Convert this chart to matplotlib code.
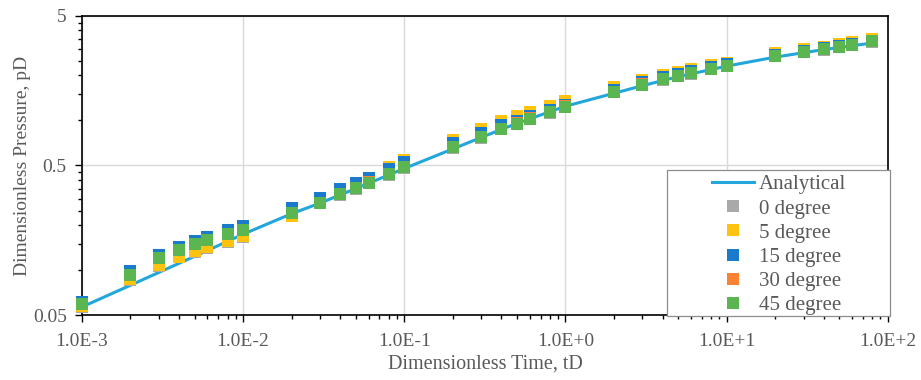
import numpy as np
import matplotlib
matplotlib.use('Agg')
import matplotlib.pyplot as plt
from matplotlib.patches import Rectangle
from matplotlib.ticker import FixedLocator, FuncFormatter, LogLocator, NullFormatter

# Dimensionless time steps of the simulations
t_d = [1e-3, 2e-3, 3e-3, 4e-3, 5e-3, 6e-3, 8e-3,
       1e-2, 2e-2, 3e-2, 4e-2, 5e-2, 6e-2, 8e-2,
       1e-1, 2e-1, 3e-1, 4e-1, 5e-1, 6e-1, 8e-1,
       1.0, 2.0, 3.0, 4.0, 5.0, 6.0, 8.0,
       10.0, 20.0, 30.0, 40.0, 50.0, 60.0, 80.0]

# Dimensionless pressure for each inclination angle
p_0deg = [0.0566, 0.0859, 0.1071, 0.1213, 0.1323, 0.1393, 0.1537,
          0.1661, 0.2284, 0.279, 0.318, 0.349, 0.381, 0.433,
          0.482, 0.655, 0.768, 0.875, 0.947, 1.02, 1.13,
          1.23, 1.54, 1.73, 1.87, 1.98, 2.06, 2.20,
          2.30, 2.68, 2.87, 2.98, 3.10, 3.20, 3.37]
p_5deg = [0.0577, 0.0868, 0.1083, 0.1231, 0.1344, 0.1415, 0.1552,
          0.1677, 0.2309, 0.282, 0.323, 0.358, 0.398, 0.4849,
          0.5402, 0.7437, 0.8762, 0.987, 1.078, 1.139, 1.258,
          1.359, 1.677, 1.860, 2.000, 2.105, 2.194, 2.334,
          2.430, 2.811, 3.002, 3.112, 3.244, 3.346, 3.504]
p_15deg = [0.0614, 0.0982, 0.1264, 0.1430, 0.1569, 0.1669, 0.1851,
           0.1978, 0.2585, 0.3049, 0.3467, 0.3803, 0.4153, 0.4723,
           0.5262, 0.7059, 0.8237, 0.9279, 0.9977, 1.066, 1.170,
           1.277, 1.594, 1.817, 1.954, 2.057, 2.144, 2.281,
           2.374, 2.746, 2.935, 3.041, 3.170, 3.269, 3.424]
p_30deg = [0.0597, 0.0932, 0.1205, 0.1362, 0.1495, 0.1580, 0.1745,
           0.1855, 0.2398, 0.2815, 0.3214, 0.3528, 0.3851, 0.4380,
           0.4880, 0.6615, 0.7755, 0.8830, 0.9552, 1.031, 1.141,
           1.241, 1.555, 1.743, 1.883, 1.991, 2.075, 2.217,
           2.312, 2.699, 2.884, 2.998, 3.116, 3.214, 3.386]
p_45deg = [0.0595, 0.0928, 0.1201, 0.1359, 0.1491, 0.1576, 0.1740,
           0.1851, 0.2392, 0.2810, 0.3209, 0.3522, 0.3845, 0.4372,
           0.4871, 0.6604, 0.7742, 0.8816, 0.9539, 1.029, 1.139,
           1.239, 1.552, 1.740, 1.880, 1.988, 2.072, 2.214,
           2.309, 2.695, 2.880, 2.994, 3.112, 3.210, 3.381]

# Analytical solution
t_analytical = [1e-3, 2e-3, 3e-3, 5e-3, 1e-2, 2e-2, 3e-2, 5e-2, 1e-1,
                2e-1, 3e-1, 5e-1, 1.0, 2.0, 3.0, 5.0, 10.0, 20.0, 40.0, 80.0]
p_analytical = [0.0566, 0.0791, 0.0964, 0.1235, 0.1735, 0.2381, 0.2802,
                0.3505, 0.4775, 0.6452, 0.7705, 0.957, 1.245, 1.521,
                1.708, 1.963, 2.309, 2.653, 2.980, 3.294]

series = [
    ('0 degree', p_0deg, '#a9a9a9'),
    ('5 degree', p_5deg, '#ffc20e'),
    ('15 degree', p_15deg, '#1a7acb'),
    ('30 degree', p_30deg, '#fb8232'),
    ('45 degree', p_45deg, '#5bb550'),
]

plt.rcParams['font.family'] = ['Liberation Serif', 'DejaVu Serif']

fig = plt.figure(figsize=(9.21, 3.80), dpi=100)
ax = fig.add_axes([0.089, 0.171, 0.875, 0.787])

ax.plot(t_analytical, p_analytical, color='#22a6dc', lw=2.2,
        label='Analytical', zorder=3)
for name, vals, col in series:
    ax.plot(t_d, vals, ls='none', marker='s', ms=9, mew=0,
            color=col, label=name, zorder=4, clip_on=False)

ax.set_xscale('log')
ax.set_yscale('log')
ax.set_xlim(1e-3, 1e2)
ax.set_ylim(0.05, 5)

ax.xaxis.set_major_locator(FixedLocator([1e-3, 1e-2, 1e-1, 1, 10, 100]))
ax.xaxis.set_major_formatter(FuncFormatter(
    lambda v, p: '1.0E{:+d}'.format(int(round(np.log10(v))))))
ax.xaxis.set_minor_locator(LogLocator(base=10, subs=np.arange(2, 10)))
ax.xaxis.set_minor_formatter(NullFormatter())

ax.yaxis.set_major_locator(FixedLocator([0.05, 0.5, 5]))
ax.yaxis.set_major_formatter(FuncFormatter(lambda v, p: '{:g}'.format(v)))
ax.yaxis.set_minor_locator(FixedLocator(
    [0.05 * k for k in range(2, 10)] + [0.5 * k for k in range(2, 10)]))
ax.yaxis.set_minor_formatter(NullFormatter())

ax.tick_params(which='major', direction='out', length=5, width=1,
               labelsize=14, labelcolor='#595959', color='black')
ax.tick_params(which='minor', direction='out', length=3, width=1,
               color='black')
ax.tick_params(axis='x', pad=8)
ax.tick_params(axis='y', pad=6)

ax.grid(True, which='major', color='#d9d9d9', lw=1)
ax.set_axisbelow(True)
for s in ax.spines.values():
    s.set_color('black')
    s.set_linewidth(1.2)

ax.set_xlabel('Dimensionless Time, tD', fontsize=14.5, color='#595959',
              labelpad=3)
ax.set_ylabel('Dimensionless Pressure, pD', fontsize=14, color='#595959',
              labelpad=1)

# legend box sits on the bottom-right corner of the plot area
box = Rectangle((667 / 921, 1 - 316 / 380), 223 / 921, 146 / 380,
                transform=fig.transFigure, facecolor='white',
                edgecolor='#8c8c8c', lw=0.9, zorder=5, clip_on=False)
fig.patches.append(box)

leg = fig.legend(*ax.get_legend_handles_labels(), loc='center left',
                 bbox_to_anchor=(702 / 921, 1 - 245 / 380),
                 fontsize=15, frameon=False, borderpad=0,
                 labelspacing=0.22, handlelength=2.0, handletextpad=0.25)
leg.set_zorder(6)
for t in leg.get_texts():
    t.set_color('#595959')

fig.savefig('out.png', dpi=100)
